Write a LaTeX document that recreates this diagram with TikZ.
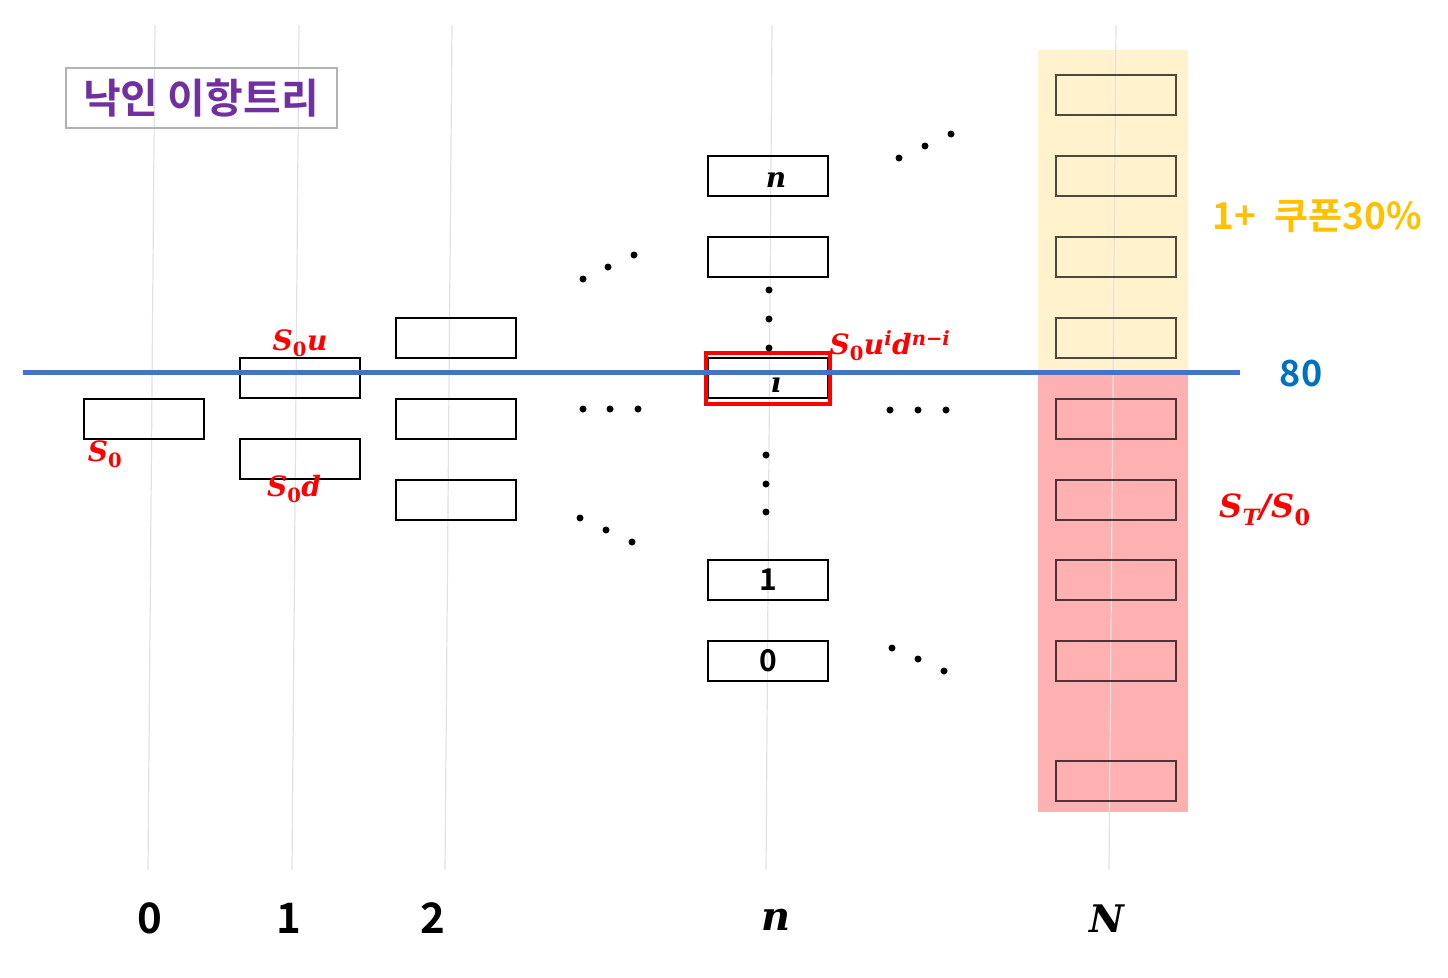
\documentclass[tikz,border=0pt]{standalone}
\usepackage{fontspec}
\setmainfont{Liberation Serif}
\newfontfamily\mth{DejaVu Serif}
\newfontfamily\kr{Noto Sans CJK KR}[BoldFont={Noto Sans CJK KR Bold}]
\definecolor{lineblue}{HTML}{4472C4}
\definecolor{numblue}{HTML}{0070C0}
\definecolor{gold}{HTML}{FFC000}
\definecolor{purp}{HTML}{7030A0}
\definecolor{ybg}{HTML}{FFF2CC}
\definecolor{pbg}{HTML}{FFB0B0}
\definecolor{vgray}{HTML}{E2E2E2}
\newcommand{\Szero}{{\bfseries\itshape S}\textsubscript{\bfseries 0}}
\newcommand{\fs}[1]{\fontsize{#1}{#1}\selectfont}
\tikzset{
  cell/.style={draw=black, line width=2.2pt, minimum width=120pt, minimum height=40pt, inner sep=0pt},
  ncell/.style={draw=black, draw opacity=0.7, line width=2.4pt, minimum width=120pt, minimum height=40pt, inner sep=0pt},
  vline/.style={draw=vgray, line width=1.2pt},
  dotmark/.style={circle, fill=black, inner sep=0pt, minimum size=7pt},
  redlab/.style={text=red, font=\mth\fs{28}, inner sep=0pt},
  axislab/.style={font=\kr\bfseries\fs{42}, inner sep=0pt},
}
\begin{document}
\begin{tikzpicture}[x=1pt,y=-1pt]
\useasboundingbox (0,0) rectangle (1448,977);
% backgrounds
\fill[ybg] (1038,50) rectangle (1188,372);
\fill[pbg] (1038,372) rectangle (1188,812);
% vertical guide lines
\draw[vline] (155,25) -- (148,870);
\draw[vline] (299,25) -- (292,870);
\draw[vline] (452,25) -- (445,870);
\draw[vline] (772,25) -- (766,870);
\draw[vline] (1116,25) -- (1109,870);
% title
\node[draw=black!30, line width=2pt, minimum width=271pt, minimum height=60pt, inner sep=0pt, text=purp, font=\kr\bfseries\fs{41}] (title) at (201,98) {낙인 이항트리};
% column 0
\node[cell] (a0) at (144,419) {};
% column 1
\node[cell] (b1) at (300,378) {};
\node[cell] (b0) at (300,459) {};
% column 2
\node[cell] (c2) at (456,338) {};
\node[cell] (c1) at (456,419) {};
\node[cell] (c0) at (456,500) {};
% column n
\node[cell] (dn) at (768,176) {};
\node[cell] (dm) at (768,257) {};
\node[cell] (di) at (768,378) {};
\node[draw=red, line width=4pt, minimum width=124pt, minimum height=51pt, inner sep=0pt] (diframe) at (768,378.5) {};
\node[cell, font=\kr\bfseries\fs{30}] (d1) at (768,580) {1};
\node[cell, font=\kr\bfseries\fs{30}] (d0) at (768,661) {0};
% column N
\foreach \y/\k in {95/1,176/2,257/3,338/4,419/5,500/6,580/7,661/8,781/9}
  \node[ncell] (e\k) at (1116,\y) {};
% dots
\foreach \x/\y [count=\i] in {583/279,608/267,634/255, 583/409,610/409,638/409, 580/518,606/530,632/542,
  899/158,925/146,951/134, 890/410,918/410,946/410, 892/648,918/659,944/671,
  769/290,769/319,769/348, 766/455,766/484,766/512}
  \node[dotmark] (dot\i) at (\x,\y) {};
% blue level line
\coordinate (bl) at (23,372);
\coordinate (br) at (1240,372);
\draw[lineblue, line width=5pt] (bl) -- (br);
% labels inside column n boxes
\node[inner sep=0pt, font=\mth\bfseries\itshape\fs{28}] (ln) at (776,180) {n};
\node[inner sep=0pt, font=\mth\bfseries\itshape\fs{28}] (li) at (776,385) {\i};
% labels
\node[redlab] (lsu) at (300,343) {\Szero{\bfseries\itshape u}};
\node[redlab] (lsd) at (294,489) {\Szero{\bfseries\itshape d}};
\node[redlab] (ls0) at (105,454) {\Szero};
\node[redlab] (lsi) at (890,346) {\Szero{\bfseries\itshape u}\textsuperscript{\bfseries\itshape i}{\bfseries\itshape d}\textsuperscript{\bfseries\itshape n−i}};
\node[redlab, font=\mth\fs{32}] (lst) at (1265,510) {{\bfseries\itshape S}\textsubscript{\bfseries\itshape T}{\bfseries\itshape /}\Szero};
\node[text=gold, font=\kr\bfseries\fs{37}, inner sep=0pt] (coupon) at (1317,216) {1+\enspace 쿠폰30\%};
\node[text=numblue, font=\kr\bfseries\fs{36}, inner sep=0pt] (eighty) at (1301,374) {80};
% axis labels
\node[axislab] (x0) at (150,918) {0};
\node[axislab] (x1) at (289,918) {1};
\node[axislab] (x2) at (433,918) {2};
\node[inner sep=0pt, font=\mth\bfseries\itshape\fs{40}] (xn) at (776,920) {n};
\node[inner sep=0pt, font=\mth\bfseries\itshape\fs{38}] (xN) at (1107,919) {N};
\end{tikzpicture}
\end{document}
